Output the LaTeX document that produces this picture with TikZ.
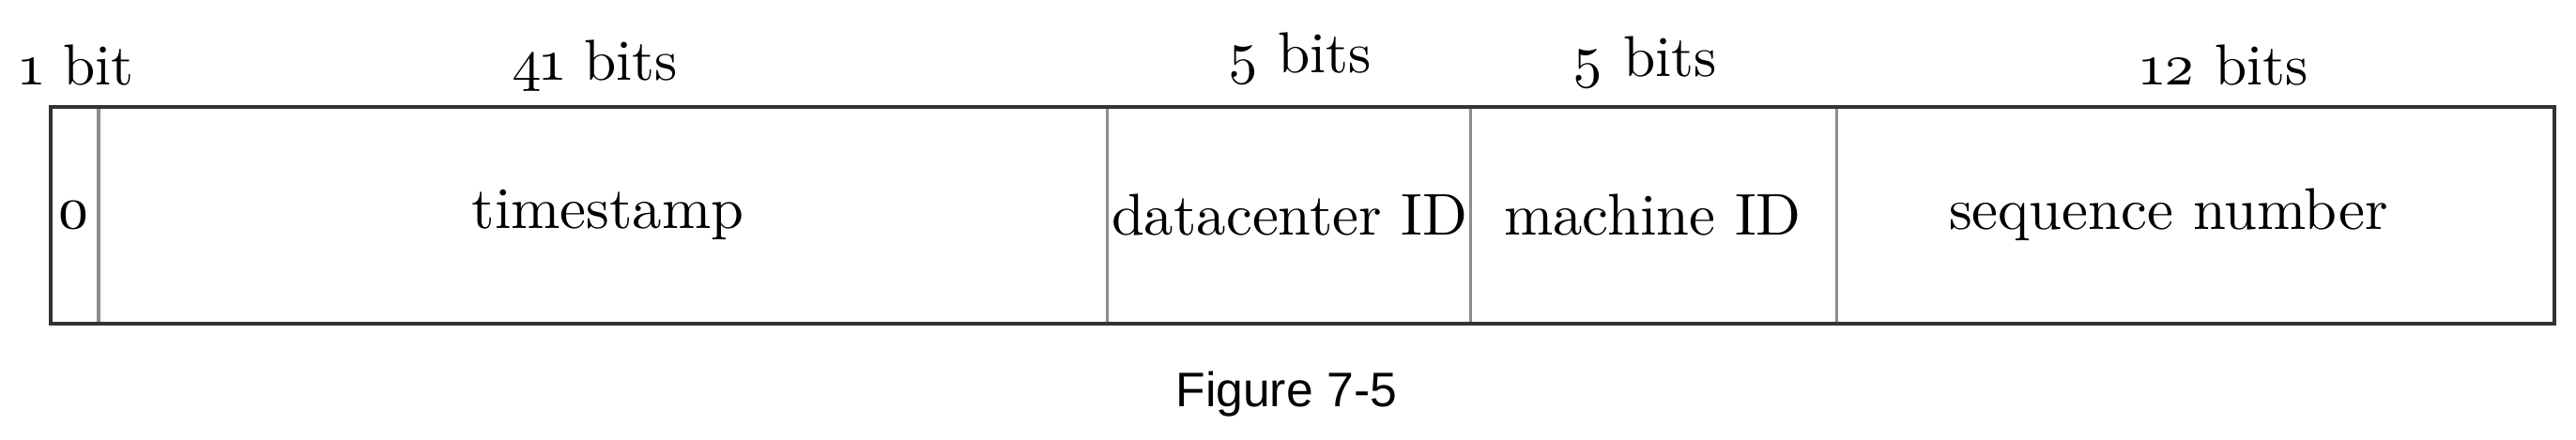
\documentclass[tikz,border=0pt]{standalone}
\usepackage{fontspec}
\setmainfont[Numbers=OldStyle]{Latin Modern Roman}
\setsansfont{Liberation Sans}
\usetikzlibrary{positioning}
\tikzset{field/.style={draw=black!45, line width=0.5pt},
    bits/.style={font=\fontsize{10}{12}\selectfont},
    fieldname/.style={font=\fontsize{10.2}{12}\selectfont}}
\begin{document}
\begin{tikzpicture}[x=0.01cm, y=-0.01cm]
    \useasboundingbox (0,0) rectangle (1568,268);
    % fields
    \draw[field] (60,65) -- (60,197);
    \draw[field] (674,65) -- (674,197);
    \draw[field] (895,65) -- (895,197);
    \draw[field] (1118,65) -- (1118,197);
    \draw[line width=0.6pt, draw=black!80] (31,65) rectangle (1555,197);
    % sizes
    \node[bits] (b1) at (47,40) {1 bit};
    \node[bits] (b2) at (362,40) {41 bits};
    \node[bits] (b3) at (791,36) {5 bits};
    \node[bits] (b4) at (1001,38) {5 bits};
    \node[bits] (b5) at (1354,40) {12 bits};
    % names
    \node[fieldname] (f1) at (45,131) {0};
    \node[fieldname] (f2) at (370,131) {timestamp};
    \node[fieldname] (f3) at (785,131) {datacenter ID};
    \node[fieldname] (f4) at (1006,131) {machine ID};
    \node[fieldname] (f5) at (1320,131) {sequence number};
    \node[font=\sffamily\fontsize{8.4}{10}\selectfont] (cap) at (783,240) {Figure 7-5};
\end{tikzpicture}
\end{document}
